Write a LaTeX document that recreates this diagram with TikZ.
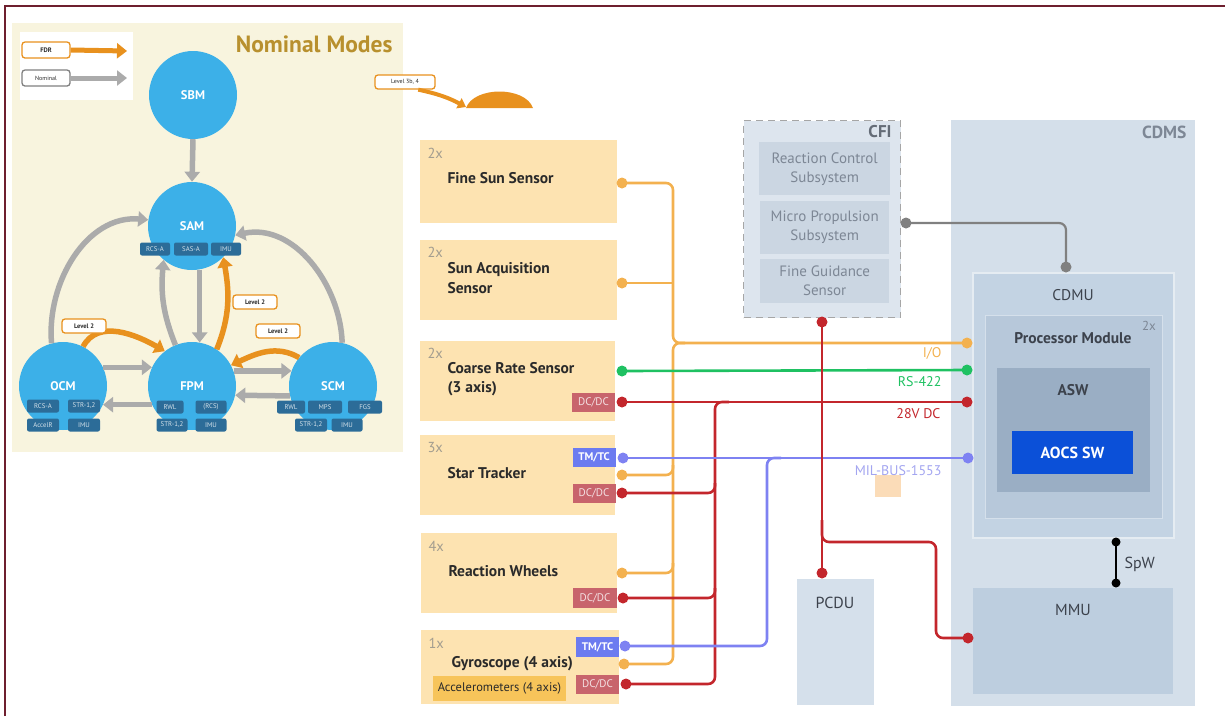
\documentclass[tikz,border=0pt]{standalone}
\usepackage{fontspec}
\setmainfont{PT Sans}
\usetikzlibrary{arrows.meta,calc}
\definecolor{frame}{HTML}{6E1F2E}
\definecolor{panel}{HTML}{F8F4DE}
\definecolor{titlec}{HTML}{B8902E}
\definecolor{modeblue}{HTML}{3CB0E8}
\definecolor{tagblue}{HTML}{2C6C98}
\definecolor{fdr}{HTML}{E8911E}
\definecolor{grayarr}{HTML}{ABABAB}
\definecolor{sensorfill}{HTML}{FDE3B1}
\definecolor{dcdc}{HTML}{C8646C}
\definecolor{tmtc}{HTML}{6C7BF0}
\definecolor{accel}{HTML}{F7C45A}
\definecolor{ioline}{HTML}{F3B14F}
\definecolor{rsgreen}{HTML}{1FC162}
\definecolor{pwrred}{HTML}{C3262C}
\definecolor{mbblue}{HTML}{7E82F2}
\definecolor{mblabel}{HTML}{A3A5F0}
\definecolor{cfifill}{HTML}{DDE5EE}
\definecolor{cfiin}{HTML}{CBD6E2}
\definecolor{cfitext}{HTML}{7D8795}
\definecolor{cdmsfill}{HTML}{D4DFEA}
\definecolor{cdmufill}{HTML}{C3D3E3}
\definecolor{procfill}{HTML}{B7C8DA}
\definecolor{aswfill}{HTML}{9AAEC4}
\definecolor{aocsc}{HTML}{0B50D8}
\definecolor{mmufill}{HTML}{BDCEDF}
\definecolor{pcdufill}{HTML}{D5E0EB}
\definecolor{peach}{HTML}{FBDCB8}
\definecolor{cntgray}{HTML}{A39D8F}
\definecolor{darktext}{HTML}{2A2A2A}
\definecolor{bluegraytext}{HTML}{3C424C}
\begin{document}
\begin{tikzpicture}[x=1pt,y=-1pt,
  modec/.style={circle,fill=modeblue,minimum size=88pt,inner sep=0pt,text=white,font=\fontsize{12.5}{14}\selectfont\bfseries},
  tag/.style={fill=tagblue,rounded corners=2pt,text=white!80!tagblue,font=\fontsize{6.8}{7}\selectfont,minimum height=13pt,minimum width=30pt,inner sep=1pt},
  lvl/.style={draw=fdr,fill=white,rounded corners=3pt,line width=1.3pt,font=\fontsize{6.5}{7}\selectfont\bfseries,text=darktext,minimum width=44pt,minimum height=14pt,inner sep=1pt},
  garr/.style={draw=grayarr,line width=5.5pt,-{Triangle[length=10pt,width=15pt]}},
  oarr/.style={draw=fdr,line width=5.5pt,-{Triangle[length=10pt,width=15pt]}},
  sbox/.style={fill=sensorfill,anchor=north west,inner sep=0pt},
  cnt/.style={anchor=west,text=cntgray,font=\fontsize{14.5}{16}\selectfont},
  stitle/.style={anchor=west,text=darktext,align=left,font=\fontsize{15.5}{19.5}\selectfont\bfseries},
  dcbox/.style={fill=dcdc,text=white!80!dcdc,font=\fontsize{11}{12}\selectfont,minimum width=43pt,minimum height=19pt,inner sep=0pt},
  tmbox/.style={fill=tmtc,text=white,font=\fontsize{11}{12}\selectfont\bfseries,minimum width=43pt,minimum height=19pt,inner sep=0pt},
  cfibox/.style={fill=cfiin,text=cfitext,align=center,font=\fontsize{15}{19}\selectfont,anchor=north west,inner sep=0pt},
  wire/.style={line width=2.6pt,rounded corners=7pt},
  busl/.style={anchor=east,font=\fontsize{14}{15}\selectfont},
  boxlbl/.style={text=bluegraytext,font=\fontsize{15.5}{17}\selectfont}
]
\useasboundingbox (0,0) rectangle (1225,716);
% frame
\draw[frame,line width=2pt] (5,716) -- (5,6) -- (1225,6);

% ---------- Nominal modes panel ----------
\fill[panel] (12,23) rectangle (403,452);
\fill[white] (20,32) rectangle (133,100);
\node[lvl,minimum width=48pt,minimum height=16pt] (lgfdr) at (46,50) {FDR};
\coordinate (lgfdrend) at (127,51);
\draw[oarr,line width=5pt] (lgfdr.east) -- (lgfdrend);
\node[lvl,draw=gray,minimum width=48pt,minimum height=16pt,font=\fontsize{6}{7}\selectfont] (lgnom) at (46,78) {Nominal};
\coordinate (lgnomend) at (127,78);
\draw[garr,line width=5pt] (lgnom.east) -- (lgnomend);
\node[anchor=east,text=titlec,font=\fontsize{23.5}{25}\selectfont\bfseries] (ttl) at (396,44) {Nominal Modes};

\node[modec] (sbm) at (193,95) {SBM};
\node[modec] (sam) at (192,226) {SAM};
\node[modec] (ocm) at (63,386) {OCM};
\node[modec] (fpm) at (192,386) {FPM};
\node[modec] (scm) at (333,386) {SCM};

\node[tag] (samrcs) at (155,249) {RCS-A};
\node[tag,minimum width=34pt] (samsas) at (191,249) {SAS-A};
\node[tag] (samimu) at (226,249) {IMU};
\node[tag,minimum width=32pt] (ocmrcs) at (43,406) {RCS-A};
\node[tag,minimum width=32pt] (ocmstr) at (84,406) {STR-1,2};
\node[tag,minimum width=32pt] (ocmacc) at (43,425) {AccelR};
\node[tag,minimum width=32pt] (ocmimu) at (84,425) {IMU};
\node[tag,minimum width=27pt] (fpmrwl) at (170,407) {RWL};
\node[tag,minimum width=31pt] (fpmrcs) at (211,407) {(RCS)};
\node[tag,minimum width=31pt] (fpmstr) at (172,425) {STR-1,2};
\node[tag,minimum width=31pt] (fpmimu) at (211,425) {IMU};
\node[tag,minimum width=28pt] (scmrwl) at (291,407) {RWL};
\node[tag,minimum width=34pt] (scmmps) at (325,407) {MPS};
\node[tag,minimum width=34pt] (scmfgs) at (365,407) {FGS};
\node[tag,minimum width=32pt] (scmstr) at (311,425) {STR-1,2};
\node[tag,minimum width=31pt] (scmimu) at (347,425) {IMU};

% gray nominal transitions
\draw[garr] (sbm.south) -- (sam.north);
\draw[garr] (ocm.105) to[out=95,in=175] (sam.172);
\draw[garr] (scm.78) to[out=92,in=12] (sam.-12);
\draw[garr] (fpm.112) to[out=112,in=-95] (sam.230);
\draw[garr] (sam.-80) -- (fpm.80);
\draw[garr] (ocm.25) -- (fpm.155);
\draw[garr] (fpm.205) -- (ocm.-25);
\draw[garr] (fpm.20) -- (scm.160);
\draw[garr] (scm.193) -- (fpm.-12);
% FDR transitions
\draw[oarr] (ocm.63) to[out=62,in=150] (fpm.128);
\draw[oarr] (fpm.56) to[out=68,in=-80] (sam.-45);
\draw[oarr] (scm.140) to[out=150,in=25] (fpm.28);
\node[lvl] (l2a) at (84,326) {Level 2};
\node[lvl] (l2b) at (255,302) {Level 2};
\node[lvl] (l2c) at (278,331) {Level 2};

% Level 3b,4
\node[lvl,minimum width=60pt,font=\fontsize{6}{7}\selectfont] (l34) at (405,82) {Level 3b, 4};
\coordinate (capl) at (466,107);
\draw[fdr,line width=4pt,-{Triangle[length=8pt,width=11pt]}] (l34.-30) to[bend left=8] (capl);
\fill[fdr] (466,108) .. controls (474,86) and (525,86) .. (533,108) -- cycle;

% ---------- sensors ----------
\node[sbox,minimum width=197pt,minimum height=83pt] (fss) at (420,140) {};
\node[cnt] at (424,153) {2x};
\node[stitle] (fsst) at (444,178) {Fine Sun Sensor};

\node[sbox,minimum width=197pt,minimum height=80pt] (sas) at (420,240) {};
\node[cnt] at (424,252) {2x};
\node[stitle] (sast) at (444,278) {Sun Acquisition\\Sensor};

\node[sbox,minimum width=195pt,minimum height=80pt] (crs) at (420,341) {};
\node[cnt] at (424,353) {2x};
\node[stitle] (crst) at (444,379) {Coarse Rate Sensor\\(3 axis)};
\node[dcbox] (crsdc) at (593.5,402.5) {DC/DC};

\node[sbox,minimum width=195pt,minimum height=80pt] (st) at (420,435) {};
\node[cnt] at (424,448) {3x};
\node[stitle] (stt) at (444,473) {Star Tracker};
\node[tmbox] (sttm) at (594,457.5) {TM/TC};
\node[dcbox] (stdcb) at (594,493.5) {DC/DC};

\node[sbox,minimum width=196pt,minimum height=80pt] (rw) at (421,533) {};
\node[cnt] at (425,546) {4x};
\node[stitle] (rwt) at (445,571) {Reaction Wheels};
\node[dcbox,minimum width=44pt,minimum height=20pt] (rwdcb) at (595,598) {DC/DC};

\node[sbox,minimum width=198pt,minimum height=74pt] (gy) at (421,630) {};
\node[cnt] at (425,643) {1x};
\node[stitle] (gyt) at (448,664) {Gyroscope (4 axis)};
\node[fill=accel,minimum width=133pt,minimum height=25pt,inner sep=0pt,text=darktext,font=\fontsize{12.5}{14}\selectfont] (acc) at (499.5,688) {Accelerometers (4 axis)};
\node[tmbox,minimum height=20pt] (gytmb) at (597.5,647) {TM/TC};
\node[dcbox] (gydcb) at (597.5,684.5) {DC/DC};

% ---------- CFI ----------
\node[draw=gray!70,dashed,dash pattern=on 7pt off 5pt,line width=1.3pt,fill=cfifill,anchor=north west,minimum width=157pt,minimum height=197pt,inner sep=0pt] (cfi) at (743,120) {};
\node[anchor=north east,text=cfitext!80!black,font=\fontsize{17}{18}\selectfont\bfseries] at (895,122) {CFI};
\node[cfibox,minimum width=131pt,minimum height=53pt] (rcsb) at (759,142) {Reaction Control\\Subsystem};
\node[cfibox,minimum width=129pt,minimum height=53pt] (mpsb) at (760,201) {Micro Propulsion\\Subsystem};
\node[cfibox,minimum width=129pt,minimum height=44pt] (fgsb) at (760,259) {Fine Guidance\\Sensor};

% ---------- CDMS ----------
\node[fill=cdmsfill,anchor=north west,minimum width=244pt,minimum height=586pt,inner sep=0pt] (cdms) at (951,120) {};
\node[anchor=north east,text=cfitext,font=\fontsize{17.5}{18}\selectfont\bfseries] at (1190,122) {CDMS};
\node[fill=cdmufill,draw=cdmsfill!60!white,line width=1.5pt,anchor=north west,minimum width=201pt,minimum height=265pt,inner sep=0pt] (cdmu) at (972,272) {};
\node[boxlbl] at (1073,295) {CDMU};
\node[fill=procfill,draw=cdmufill!70!white,line width=1.2pt,anchor=north west,minimum width=177pt,minimum height=203pt,inner sep=0pt] (proc) at (985,315) {};
\node[boxlbl,font=\fontsize{15.5}{17}\selectfont\bfseries] at (1073,338) {Processor Module};
\node[text=cfitext,font=\fontsize{13}{14}\selectfont] at (1149,326) {2x};
\node[fill=aswfill,anchor=north west,minimum width=153pt,minimum height=124pt,inner sep=0pt] (asw) at (997,368) {};
\node[boxlbl,font=\fontsize{15.5}{17}\selectfont\bfseries] at (1073,390) {ASW};
\node[fill=aocsc,minimum width=121pt,minimum height=43pt,inner sep=0pt,text=white,font=\fontsize{16}{17}\selectfont\bfseries] (aocs) at (1072.5,452.5) {AOCS SW};
\node[fill=mmufill,anchor=north west,minimum width=200pt,minimum height=106pt,inner sep=0pt] (mmu) at (973,588) {};
\node[boxlbl,font=\fontsize{16}{17}\selectfont] at (1073,610) {MMU};
\node[fill=pcdufill,anchor=north west,minimum width=77pt,minimum height=126pt,inner sep=0pt] (pcdu) at (797,579) {};
\node[boxlbl,font=\fontsize{16}{17}\selectfont] at (835,603) {PCDU};
\fill[peach] (875,475) rectangle (901,497);

% ---------- connection points ----------
\coordinate (fssd) at (622,183);
\coordinate (sasd) at (622,283);
\coordinate (crsg) at (622,371);
\coordinate (crsr) at (622,402);
\coordinate (sttmd) at (623,458);
\coordinate (stio) at (622,475);
\coordinate (stdc) at (622,493);
\coordinate (rwio) at (622,573);
\coordinate (rwdc) at (623,598);
\coordinate (gytm) at (625,646);
\coordinate (gyio) at (624,664);
\coordinate (gydc) at (626,684);
\coordinate (cdio) at (967,343);
\coordinate (cdrs) at (967,370);
\coordinate (cddc) at (967,402);
\coordinate (cdmb) at (968,458);
\coordinate (iojoin) at (673,343);
\coordinate (dcjoin) at (715,402);
\coordinate (mbjoin) at (767,458);
\coordinate (cfid) at (906,223);
\coordinate (cdmud) at (1066,267);
\coordinate (cfir) at (822,322);
\coordinate (pcdud) at (822,573);
\coordinate (brtop) at (822,520);
\coordinate (brknee) at (936,542);
\coordinate (mmud) at (968,638);
\coordinate (spwa) at (1116,542);
\coordinate (spwb) at (1116,583);

% I/O
\draw[wire,ioline] (fssd) -| (iojoin) -- (cdio);
\draw[wire,ioline] (sasd) -- (sasd -| iojoin);
\draw[wire,ioline] (gyio) -| (iojoin) -- ++(12,0);
\draw[wire,ioline] (stio) -| ($(stio -| iojoin)+(0,-10)$);
\draw[wire,ioline] (rwio) -| ($(rwio -| iojoin)+(0,-10)$);
% RS-422
\draw[wire,rsgreen] (crsg) -- (cdrs);
% 28V DC
\draw[wire,pwrred] (crsr) -- (cddc);
\draw[wire,pwrred] (gydc) -| (dcjoin) -- ++(14,0);
\draw[wire,pwrred] (stdc) -| ($(stdc -| dcjoin)+(0,-10)$);
\draw[wire,pwrred] (rwdc) -| ($(rwdc -| dcjoin)+(0,-10)$);
% MIL-BUS
\draw[wire,mbblue] (sttmd) -- (cdmb);
\draw[wire,mbblue] (gytm) -| (mbjoin) -- ++(14,0);
% CFI / PCDU / MMU power
\draw[wire,pwrred] (cfir) -- (pcdud);
\draw[wire,pwrred] (brtop) |- (brknee) |- (mmud);
% CFI - CDMU
\draw[wire,gray,line width=2.2pt] (cfid) -| (cdmud);
% SpW
\draw[black,line width=2.2pt] (spwa) -- (spwb);

% dots
\foreach \p/\c in {fssd/ioline,sasd/ioline,stio/ioline,rwio/ioline,gyio/ioline,cdio/ioline,
  crsg/rsgreen,cdrs/rsgreen,
  crsr/pwrred,stdc/pwrred,rwdc/pwrred,gydc/pwrred,cddc/pwrred,cfir/pwrred,pcdud/pwrred,mmud/pwrred,
  sttmd/mbblue,gytm/mbblue,cdmb/mbblue,
  cfid/gray,cdmud/gray}
  \fill[\c] (\p) circle (5.5pt);
\fill[black] (spwa) circle (4.5pt);
\fill[black] (spwb) circle (4.5pt);

% bus labels
\node[busl,text=ioline] at (945,353) {I/O};
\node[busl,text=rsgreen] at (945,382) {RS-422};
\node[busl,text=pwrred] at (944,414) {28V DC};
\node[busl,text=mblabel] at (945,471) {MIL-BUS-1553};
\node[anchor=west,boxlbl,font=\fontsize{16}{17}\selectfont] at (1121,564) {SpW};
\end{tikzpicture}
\end{document}
